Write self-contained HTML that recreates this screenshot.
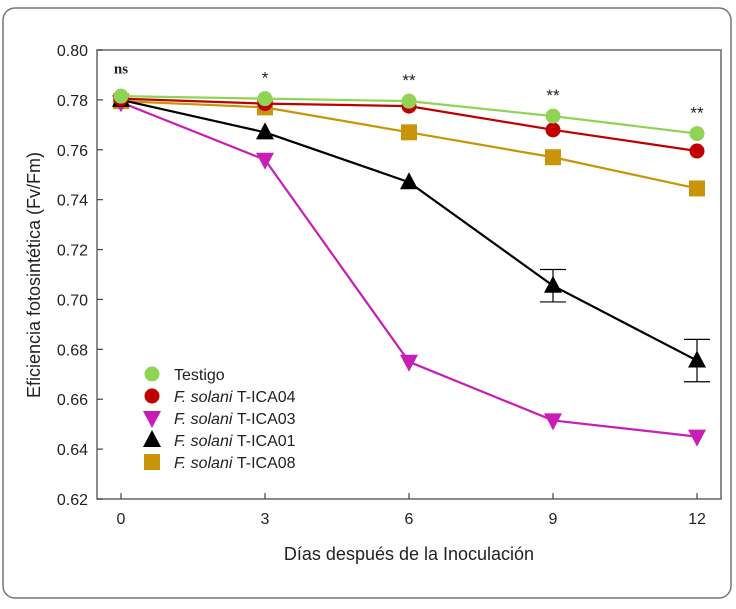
<!DOCTYPE html>
<html><head><meta charset="utf-8"><style>
body{margin:0;background:#fff;}
svg text{font-family:"Liberation Sans",sans-serif;}
</style></head><body>
<svg width="736" height="604" viewBox="0 0 736 604">
<rect x="3" y="8" width="728" height="590" rx="12" fill="#fff" stroke="#777" stroke-width="1.5"/>
<g id="plot"></g>
</svg>
<script>
const days=[0,3,6,9,12];
const yTicks=[0.62,0.64,0.66,0.68,0.70,0.72,0.74,0.76,0.78,0.80];
const testigo=[0.7815,0.7805,0.7795,0.7735,0.7665];
const ica04=[0.7805,0.7785,0.7775,0.768,0.7595];
const ica03=[0.779,0.756,0.675,0.6515,0.645];
const ica01=[0.780,0.767,0.747,0.7055,0.6755];
const ica01err=[0,0,0,0.0065,0.0085];
const ica08=[0.7795,0.777,0.767,0.757,0.7445];
const sigLabels=['ns','*','**','**','**'];
const sigY=[0.7905,0.7865,0.7855,0.7795,0.7725];
const NS='http://www.w3.org/2000/svg';
const g=document.getElementById('plot');
const X=d=>121+(d/3)*144;
const Y=v=>50+(0.80-v)/0.18*449;
function mk(t,a,p){const e=document.createElementNS(NS,t);for(const k in a)e.setAttribute(k,a[k]);(p||g).appendChild(e);return e;}
let e;
e=mk('rect',{x:97,y:50,width:624,height:449,fill:'none',stroke:'#666','stroke-width':1.5});


yTicks.forEach(v=>{
 mk('line',{x1:97,x2:103,y1:Y(v),y2:Y(v),stroke:'#444','stroke-width':1.2});
 e=mk('text',{x:88,y:Y(v)+6,'text-anchor':'end','font-size':16,fill:'#222'});e.textContent=v.toFixed(2);
 
 
});
days.forEach(d=>{
 mk('line',{x1:X(d),x2:X(d),y1:499,y2:493,stroke:'#444','stroke-width':1.2});
 e=mk('text',{x:X(d),y:524,'text-anchor':'middle','font-size':16,fill:'#222'});e.textContent=d;
 
 
});
e=mk('text',{x:409,y:560,'text-anchor':'middle','font-size':18,fill:'#222'});e.textContent='Días después de la Inoculación';


e=mk('text',{x:0,y:0,'text-anchor':'middle','font-size':18,fill:'#222',transform:'translate(40,275) rotate(-90)'});e.textContent='Eficiencia fotosintética (Fv/Fm)';


function marker(type,x,y,c,p){
 if(type=='circle')return mk('circle',{cx:x,cy:y,r:7.5,fill:c},p);
 if(type=='square')return mk('rect',{x:x-8,y:y-8,width:16,height:16,fill:c},p);
 if(type=='up')return mk('polygon',{points:`${x},${y-10} ${x-9},${y+7} ${x+9},${y+7}`,fill:c},p);
 return mk('polygon',{points:`${x},${y+10} ${x-9},${y-7} ${x+9},${y-7}`,fill:c},p);
}
const series=[
 {name:'T-ICA08',data:ica08,c:'#c8940a',m:'square'},
 {name:'T-ICA03',data:ica03,c:'#c81eb8',m:'down'},
 {name:'T-ICA01',data:ica01,c:'#000',m:'up',err:ica01err},
 {name:'T-ICA04',data:ica04,c:'#c00000',m:'circle'},
 {name:'Testigo',data:testigo,c:'#8fd454',m:'circle'}];
series.forEach(s=>{
 const grp=mk('g',{});
 
 
 mk('polyline',{points:s.data.map((v,i)=>X(days[i])+','+Y(v)).join(' '),fill:'none',stroke:s.c,'stroke-width':2.2},grp);
 s.data.forEach((v,i)=>{
  if(s.err&&s.err[i]>0){
   const x=X(days[i]),y1=Y(v+s.err[i]),y2=Y(v-s.err[i]);
   mk('path',{d:`M${x},${y1}V${y2}M${x-13},${y1}H${x+13}M${x-13},${y2}H${x+13}`,stroke:'#000','stroke-width':1.2,fill:'none'},grp);
  }
  e=marker(s.m,X(days[i]),Y(v),s.c,grp);
  
  
 });
});
sigLabels.forEach((t,i)=>{
 e=mk('text',{x:X(days[i]),y:Y(sigY[i]),'text-anchor':'middle','font-size':i==0?15:17,'font-weight':i==0?'bold':'normal',fill:'#222',style:i==0?'font-family:"Liberation Serif",serif':''});
 e.textContent=t;
 
 
});
const leg=[['circle','#8fd454','Testigo',false],['circle','#c00000','T-ICA04',true],['down','#c81eb8','T-ICA03',true],['up','#000','T-ICA01',true],['square','#c8940a','T-ICA08',true]];
leg.forEach((l,i)=>{
 const y=374+i*22;
 const lg=mk('g',{});
 
 
 marker(l[0],152,y,l[1],lg);
 const t=mk('text',{x:174,y:y+6,'font-size':16,fill:'#222'},lg);
 if(l[3]){const it=mk('tspan',{'font-style':'italic'},t);it.textContent='F. solani ';const r=mk('tspan',{},t);r.textContent=l[2];}
 else t.textContent=l[2];
});
</script>
</body></html>
